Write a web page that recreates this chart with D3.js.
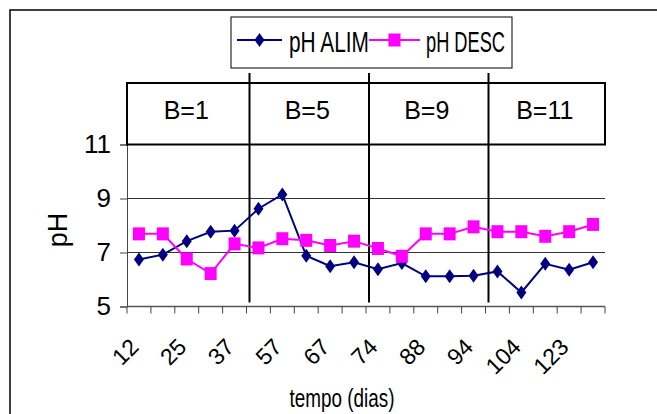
<!DOCTYPE html>
<html>
<head>
<meta charset="utf-8">
<script src="https://cdn.jsdelivr.net/npm/d3@7"></script>
<style>
  body { margin: 0; background: #fff; }
  svg { display: block; font-family: 'Liberation Sans', Arial, sans-serif; }
</style>
</head>
<body>
<div id="chart"></div>
<script>
// days of sampling (only every other one is labelled on the axis)
const days = [12, 18, 25, 31, 37, 46, 57, 63, 67, 70, 74, 81, 88, 91, 94, 98, 104, 115, 123, 130];
const phAlim = [6.74, 6.92, 7.42, 7.77, 7.81, 8.62, 9.15, 6.88, 6.49, 6.64, 6.38, 6.61, 6.12, 6.12, 6.14, 6.30, 5.52, 6.58, 6.36, 6.64];
const phDesc = [7.69, 7.69, 6.76, 6.22, 7.32, 7.17, 7.51, 7.45, 7.26, 7.42, 7.15, 6.86, 7.69, 7.69, 7.95, 7.77, 7.77, 7.60, 7.77, 8.04];
const yTicks = [5, 7, 9, 11];
const blocks = ['B=1', 'B=5', 'B=9', 'B=11'];
const perBlock = 5;

const W = 657, H = 414;
const plot = { left: 127, right: 605, top: 144.5, bottom: 306.5 };
const headerTop = 83;

const svg = d3.select('#chart').append('svg')
  .attr('width', W)
  .attr('height', H);

// outer chart frame (runs off the right and bottom edge)
svg.append('rect')
  .attr('x', 10).attr('y', 10)
  .attr('width', W).attr('height', H)
  .attr('fill', 'none')
  .attr('stroke', '#000')
  .attr('stroke-width', 1.5);

const x = d3.scaleBand()
  .domain(d3.range(days.length))
  .range([plot.left, plot.right]);
const cx = i => x(i) + x.bandwidth() / 2;

const y = d3.scaleLinear()
  .domain([5, 11])
  .range([plot.bottom, plot.top]);

// gridlines
svg.append('g')
  .selectAll('line')
  .data(yTicks.filter(d => d > 5 && d < 11))
  .enter()
  .append('line')
  .attr('x1', plot.left).attr('x2', plot.right)
  .attr('y1', d => y(d)).attr('y2', d => y(d))
  .attr('stroke', '#333')
  .attr('stroke-width', 1.2);

// y axis
const yAxis = svg.append('g')
  .attr('transform', `translate(${plot.left},0)`)
  .call(d3.axisLeft(y).tickValues(yTicks).tickSize(7).tickPadding(9).tickFormat(d3.format('d')));
yAxis.select('.domain').attr('stroke', '#444');
yAxis.selectAll('.tick line').attr('stroke', '#444');
yAxis.selectAll('text')
  .attr('font-size', 26)
  .attr('font-family', "'Liberation Sans', Arial, sans-serif")
  .attr('fill', '#000');

// x axis
const boundaries = d3.range(days.length + 1).map(i => plot.left + i * x.step());
svg.append('line')
  .attr('x1', plot.left).attr('x2', plot.right)
  .attr('y1', plot.bottom).attr('y2', plot.bottom)
  .attr('stroke', '#555').attr('stroke-width', 1.5);
svg.append('g')
  .selectAll('line')
  .data(boundaries)
  .enter()
  .append('line')
  .attr('x1', d => d).attr('x2', d => d)
  .attr('y1', plot.bottom).attr('y2', plot.bottom + 7)
  .attr('stroke', '#444');

svg.append('g')
  .selectAll('text')
  .data(days.map((d, i) => ({ d, i })).filter(e => e.i % 2 === 0))
  .enter()
  .append('text')
  .attr('transform', e => `translate(${cx(e.i) + 1},${plot.bottom + 42}) rotate(-45)`)
  .attr('text-anchor', 'end')
  .attr('font-size', 23)
  .text(e => e.d);

// axis titles
svg.append('text')
  .attr('x', 342).attr('y', 407)
  .attr('text-anchor', 'middle')
  .attr('font-size', 26)
  .attr('textLength', 105)
  .attr('lengthAdjust', 'spacingAndGlyphs')
  .text('tempo (dias)');

svg.append('text')
  .attr('transform', `translate(67,230) rotate(-90)`)
  .attr('text-anchor', 'middle')
  .attr('font-size', 27)
  .text('pH');

// header box with B sections
svg.append('rect')
  .attr('x', plot.left).attr('y', headerTop)
  .attr('width', plot.right - plot.left)
  .attr('height', y(11) - headerTop)
  .attr('fill', 'none')
  .attr('stroke', '#000')
  .attr('stroke-width', 2);

const dividers = blocks.slice(1).map((b, k) => x((k + 1) * perBlock) + 3);
svg.append('g')
  .selectAll('line')
  .data(dividers)
  .enter()
  .append('line')
  .attr('x1', d => d).attr('x2', d => d)
  .attr('y1', headerTop - 10).attr('y2', plot.bottom - 4)
  .attr('stroke', '#000')
  .attr('stroke-width', 2);

const edges = [plot.left, ...dividers, plot.right];
svg.append('g')
  .selectAll('text')
  .data(blocks)
  .enter()
  .append('text')
  .attr('x', (d, k) => (edges[k] + edges[k + 1]) / 2 - 2)
  .attr('y', 119)
  .attr('text-anchor', 'middle')
  .attr('font-size', 25)
  .text(d => d);

// series
const series = [
  { name: 'pH ALIM', values: phAlim, color: '#000080', shape: 'diamond' },
  { name: 'pH DESC', values: phDesc, color: '#FF00FF', shape: 'square' },
];

const marker = (sel, s) => {
  if (s.shape === 'diamond') {
    sel.append('path')
      .attr('d', 'M0,-7L5,0L0,7L-5,0Z')
      .attr('fill', s.color);
  } else {
    sel.append('rect')
      .attr('x', -6).attr('y', -6.5)
      .attr('width', 12).attr('height', 13)
      .attr('fill', s.color);
  }
};

const line = d3.line()
  .x((d, i) => cx(i))
  .y(d => y(d));

series.forEach((s) => {
  svg.append('path')
    .datum(s.values)
    .attr('d', line)
    .attr('fill', 'none')
    .attr('stroke', s.color)
    .attr('stroke-width', 2);

  svg.append('g')
    .selectAll('g')
    .data(s.values)
    .enter()
    .append('g')
    .attr('transform', (d, i) => `translate(${cx(i)},${y(d)})`)
    .each(function () { marker(d3.select(this), s); });
});

// legend
const legend = svg.append('g');
legend.append('rect')
  .attr('x', 231).attr('y', 17)
  .attr('width', 281).attr('height', 51)
  .attr('fill', '#fff')
  .attr('stroke', '#000');

const legendItems = [
  { s: series[0], x0: 237, x1: 282, tx: 289, tw: 80 },
  { s: series[1], x0: 369, x1: 420, tx: 426, tw: 79 },
];
legendItems.forEach((it) => {
  legend.append('line')
    .attr('x1', it.x0).attr('x2', it.x1)
    .attr('y1', 40).attr('y2', 40)
    .attr('stroke', it.s.color)
    .attr('stroke-width', 2);
  marker(legend.append('g').attr('transform', `translate(${(it.x0 + it.x1) / 2},40)`), it.s);
  legend.append('text')
    .attr('x', it.tx).attr('y', 52)
    .attr('font-size', 29)
    .attr('textLength', it.tw)
    .attr('lengthAdjust', 'spacingAndGlyphs')
    .text(it.s.name);
});
</script>
</body>
</html>
